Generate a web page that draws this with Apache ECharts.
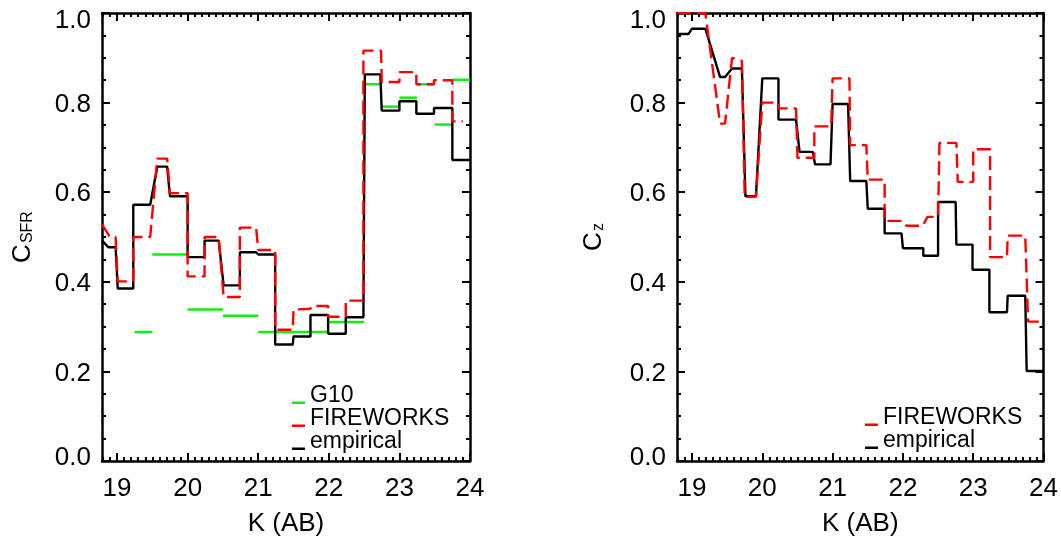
<!DOCTYPE html>
<html>
<head>
<meta charset="UTF-8">
<title>C_SFR / C_z vs K(AB)</title>
<script src="https://cdn.jsdelivr.net/npm/echarts@6/dist/echarts.min.js"></script>
<style>
html, body { margin: 0; padding: 0; background: #fff; }
#main { width: 1061px; height: 542px; }
</style>
</head>
<body>
<div id="main"></div>
<script>
// left panel: C_SFR, step vertices [K, value]
var sfrEmpirical = [
	[18.787, 0.492], [18.88, 0.477], [18.98, 0.477], [19.01, 0.385], [19.23, 0.385], [19.23, 0.572],
	[19.47, 0.572], [19.57, 0.657], [19.71, 0.657], [19.75, 0.591], [20.0, 0.591], [20.0, 0.455],
	[20.24, 0.455], [20.24, 0.492], [20.44, 0.492], [20.51, 0.392], [20.74, 0.392], [20.74, 0.466],
	[20.97, 0.466], [21.0, 0.461], [21.24, 0.461], [21.24, 0.260], [21.49, 0.260], [21.5, 0.278],
	[21.74, 0.278], [21.74, 0.326], [21.99, 0.326], [21.99, 0.284], [22.24, 0.284], [22.24, 0.321],
	[22.49, 0.321], [22.51, 0.863], [22.73, 0.863], [22.75, 0.782], [23.0, 0.782], [23.0, 0.803],
	[23.24, 0.803], [23.24, 0.775], [23.49, 0.775], [23.49, 0.788], [23.75, 0.788], [23.75, 0.672],
	[24.0, 0.672]
];
var sfrFireworks = [
	[18.787, 0.528], [18.9, 0.50], [18.98, 0.50], [19.01, 0.401], [19.23, 0.401], [19.23, 0.50],
	[19.47, 0.50], [19.57, 0.675], [19.71, 0.675], [19.75, 0.598], [20.0, 0.598], [20.0, 0.412],
	[20.24, 0.412], [20.24, 0.50], [20.44, 0.50], [20.51, 0.366], [20.74, 0.366], [20.74, 0.521],
	[20.97, 0.521], [21.0, 0.471], [21.24, 0.471], [21.24, 0.293], [21.49, 0.293], [21.5, 0.338],
	[21.74, 0.340], [21.76, 0.346], [21.99, 0.346], [21.99, 0.322], [22.24, 0.322], [22.24, 0.358],
	[22.49, 0.358], [22.49, 0.916], [22.74, 0.916], [22.75, 0.846], [23.0, 0.846], [23.0, 0.868],
	[23.24, 0.868], [23.24, 0.841], [23.49, 0.841], [23.49, 0.850], [23.75, 0.850], [23.75, 0.758],
	[23.9, 0.758]
];
// G10: [K from, K to, value]
var sfrG10 = [
	[19.25, 19.5, 0.288], [19.5, 20.0, 0.461], [20.0, 20.5, 0.338], [20.5, 21.0, 0.324],
	[21.0, 22.0, 0.288], [22.0, 22.5, 0.310], [22.5, 22.75, 0.841], [22.75, 23.0, 0.791],
	[23.0, 23.25, 0.811], [23.25, 23.5, 0.841], [23.5, 23.75, 0.751], [23.75, 24.0, 0.851]
];

// right panel: C_z
var zEmpirical = [
	[18.787, 0.953], [18.95, 0.953], [19.0, 0.965], [19.19, 0.965], [19.40, 0.857], [19.47, 0.857],
	[19.57, 0.876], [19.71, 0.876], [19.76, 0.591], [19.91, 0.591], [20.0, 0.854], [20.23, 0.854],
	[20.23, 0.762], [20.48, 0.762], [20.53, 0.690], [20.72, 0.690], [20.75, 0.662], [20.97, 0.662],
	[21.0, 0.797], [21.22, 0.797], [21.25, 0.625], [21.48, 0.625], [21.5, 0.563], [21.74, 0.563],
	[21.74, 0.508], [21.98, 0.508], [22.0, 0.475], [22.29, 0.475], [22.29, 0.458], [22.5, 0.458],
	[22.5, 0.578], [22.75, 0.578], [22.76, 0.483], [22.99, 0.483], [22.99, 0.427], [23.23, 0.427],
	[23.23, 0.332], [23.48, 0.332], [23.49, 0.369], [23.74, 0.369], [23.76, 0.201], [24.0, 0.201]
];
var zFireworks = [
	[18.787, 1.0], [19.19, 1.0], [19.40, 0.753], [19.47, 0.753], [19.57, 0.900], [19.71, 0.893],
	[19.75, 0.59], [19.91, 0.59], [20.0, 0.80], [20.23, 0.80], [20.23, 0.787], [20.48, 0.787],
	[20.5, 0.677], [20.74, 0.677], [20.74, 0.747], [20.98, 0.747], [21.0, 0.854], [21.24, 0.854],
	[21.25, 0.705], [21.48, 0.705], [21.5, 0.628], [21.74, 0.628], [21.74, 0.536], [22.0, 0.536],
	[22.05, 0.525], [22.28, 0.525], [22.35, 0.545], [22.5, 0.545], [22.52, 0.71], [22.76, 0.71],
	[22.78, 0.623], [23.0, 0.623], [23.0, 0.696], [23.24, 0.696], [23.24, 0.455], [23.48, 0.455],
	[23.49, 0.503], [23.74, 0.503], [23.78, 0.311], [24.0, 0.311]
];

var kMin = 18.787, kMax = 24;
var kMajor = [19, 20, 21, 22, 23, 24];
var kMinor = [];
for (var i = 188; i < 240; i++) {
	if (i % 10 !== 0) kMinor.push(i / 10);
}

var FONT = 'Liberation Sans';
var RED = '#ff0000', GREEN = '#11ee11';

function kAxis(grid, pos, major, labels) {
	return {
		type: 'value', gridIndex: grid, position: pos, min: kMin, max: kMax,
		name: labels ? 'K (AB)' : '', nameLocation: 'middle', nameGap: 50,
		nameTextStyle: { fontFamily: FONT, fontSize: 26, color: '#000' },
		axisLine: { show: major, lineStyle: { color: '#000', width: 2.5 } },
		axisTick: {
			show: true, inside: true, length: major ? 8 : 4,
			customValues: major ? kMajor : kMinor,
			lineStyle: { color: '#000', width: 2 }
		},
		axisLabel: { show: labels, customValues: kMajor, margin: 15, fontFamily: FONT, fontSize: 26, color: '#000' },
		splitLine: { show: false }
	};
}

var labelRich = {
	hi: { fontFamily: FONT, fontSize: 26, color: '#000', padding: [16, 0, 0, 0] },
	lo: { fontFamily: FONT, fontSize: 26, color: '#000', padding: [0, 0, 6, 0] },
	md: { fontFamily: FONT, fontSize: 26, color: '#000', padding: [4, 0, 0, 0] }
};

function cAxis(grid, pos, title, gap) {
	return {
		type: 'value', gridIndex: grid, position: pos, min: 0, max: 1, interval: 0.2,
		name: title || '', nameLocation: 'middle', nameRotate: 90, nameGap: gap || 0,
		nameTextStyle: {
			rich: {
				c: { fontFamily: FONT, fontSize: 26, color: '#000', lineHeight: 26, verticalAlign: 'top' },
				s: { fontFamily: FONT, fontSize: 16, color: '#000', lineHeight: 16, verticalAlign: 'bottom', padding: [18, 0, 0, 1] }
			}
		},
		axisLine: { show: true, lineStyle: { color: '#000', width: 2.5 } },
		axisTick: { show: true, inside: true, length: 8, lineStyle: { color: '#000', width: 2 } },
		minorTick: { show: true, splitNumber: 4, length: 4, lineStyle: { color: '#000', width: 2 } },
		axisLabel: {
			show: !!title, margin: 11, rich: labelRich,
			formatter: function(v) {
				if (v === 1) return '{hi|1.0}';
				if (v === 0) return '{lo|0.0}';
				return '{md|' + v.toFixed(1) + '}';
			}
		},
		splitLine: { show: false },
		minorSplitLine: { show: false }
	};
}

function stepLine(name, data, xi, yi, color, dashed) {
	return {
		name: name, type: 'line', xAxisIndex: xi, yAxisIndex: yi, data: data,
		symbol: 'none', color: color, z: dashed ? 4 : 3,
		lineStyle: { color: color, width: 2.4, type: dashed ? [14, 6] : 'solid' }
	};
}

// short line sample sitting low in the legend row, like the original
var KEY_ICON = 'path://M0,0L13,0L13,0.01L0,0.01Z M0,17L13,17L13,19.5L0,19.5Z M0,21.99L13,21.99L13,22L0,22Z';

function legendBox(names, left, top) {
	return {
		data: names.map(function(n) { return { name: n, icon: KEY_ICON }; }),
		orient: 'vertical', left: left, top: top,
		itemWidth: 13, itemHeight: 22, itemGap: 0, selectedMode: false,
		itemStyle: { borderWidth: 0 },
		textStyle: { fontFamily: FONT, fontSize: 23, color: '#000', lineHeight: 22 }
	};
}

var app = echarts.init(document.getElementById('main'));
var option = {
	backgroundColor: '#fff',
	animation: false,
	grid: [
		{ left: 102, top: 13, width: 368, height: 453 },
		{ left: 677, top: 13, width: 368, height: 453 }
	],
	xAxis: [
		kAxis(0, 'bottom', true, true), kAxis(0, 'bottom', false, false),
		kAxis(0, 'top', true, false), kAxis(0, 'top', false, false),
		kAxis(1, 'bottom', true, true), kAxis(1, 'bottom', false, false),
		kAxis(1, 'top', true, false), kAxis(1, 'top', false, false)
	],
	yAxis: [
		cAxis(0, 'left', '{c|C}{s|SFR}', 66), cAxis(0, 'right'),
		cAxis(1, 'left', '{c|C}{s|z}', 70), cAxis(1, 'right')
	],
	legend: [
		legendBox(['G10', 'FIREWORKS', 'empirical'], 287, 379),
		legendBox(['FIREWORKS', 'empirical'], 860, 401)
	],
	series: [
		stepLine('empirical', sfrEmpirical, 0, 0, '#000', false),
		{
			name: 'G10', type: 'custom', xAxisIndex: 0, yAxisIndex: 0, data: sfrG10,
			encode: { x: [0, 1], y: 2 }, itemStyle: { color: GREEN }, z: 3,
			renderItem: function(params, api) {
				var p0 = api.coord([api.value(0), api.value(2)]);
				var p1 = api.coord([api.value(1), api.value(2)]);
				return {
					type: 'line',
					shape: { x1: p0[0], y1: p0[1], x2: p1[0], y2: p1[1] },
					style: { stroke: GREEN, lineWidth: 2.5 }
				};
			}
		},
		stepLine('FIREWORKS', sfrFireworks, 0, 0, RED, true),
		stepLine('empirical', zEmpirical, 4, 2, '#000', false),
		stepLine('FIREWORKS', zFireworks, 4, 2, RED, true)
	]
};
app.setOption(option);
window.addEventListener('resize', function() {
	app.resize();
});
</script>
</body>
</html>
